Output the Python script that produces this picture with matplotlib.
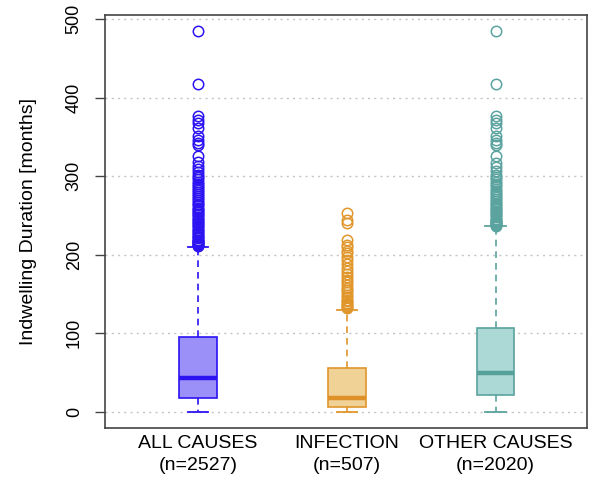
import matplotlib
matplotlib.use("Agg")
import matplotlib.pyplot as plt

plt.rcParams['font.family'] = ['Liberation Sans', 'DejaVu Sans']

categories = ["ALL CAUSES\n(n=2527)", "INFECTION\n(n=507)", "OTHER CAUSES\n(n=2020)"]
q1 = [17.5, 6.0, 21.5]
median = [43.0, 18.0, 50.0]
q3 = [95.5, 56.0, 107.0]
whislo = [0.0, 0.0, 0.0]
whishi = [210.0, 130.0, 236.0]

outliers_all = [485, 417, 376, 372, 367, 361, 351, 346, 342, 339, 326, 318, 313, 309, 305,
                302, 299, 296, 293, 290, 288, 285, 283, 280, 277, 275, 272, 270, 267, 265,
                263, 260, 258, 256, 254, 252, 250, 248, 246, 244, 242, 240, 238, 236, 234,
                232, 230, 228, 226, 224, 222, 221, 219, 218, 217, 216, 215, 214, 213, 212, 211]
outliers_inf = [253, 244, 240, 219, 213, 210, 205, 202, 197, 193, 188, 183, 179, 176, 172,
                168, 165, 162, 158, 155, 152, 149, 146, 143, 141, 139, 137, 135, 133, 132]
outliers_oth = [485, 417, 376, 372, 367, 361, 351, 346, 342, 339, 326, 317, 311, 306, 302,
                299, 296, 293, 290, 287, 284, 281, 279, 276, 273, 271, 268, 266, 264, 262,
                260, 258, 256, 254, 252, 250, 248, 246, 244, 243, 242, 241, 240, 239, 238, 237]
outliers = [outliers_all, outliers_inf, outliers_oth]

yticks = [0, 100, 200, 300, 400, 500]

edge_colors = ["#2b13f2", "#e0962a", "#5aa39e"]
fill_colors = ["#9a90f7", "#f0d196", "#acd8d6"]
median_colors = ["#2b13f2", "#dd9128", "#56a09b"]

fig = plt.figure(figsize=(5.92, 4.79), dpi=100)
ax = fig.add_axes([105/592, 1-428/479, (587-105)/592, (428-15)/479])

for y in yticks:
    ax.axhline(y, color="#c4c4c4", linestyle=(0, (1.5, 3)), linewidth=1.0, zorder=0)

positions = [1, 2, 3]
for i in range(3):
    st = [dict(med=median[i], q1=q1[i], q3=q3[i], whislo=whislo[i], whishi=whishi[i],
               fliers=outliers[i])]
    ax.bxp(st, positions=[positions[i]], widths=0.255, patch_artist=True,
           showcaps=True, showfliers=True,
           boxprops=dict(facecolor=fill_colors[i], edgecolor=edge_colors[i], linewidth=1.2),
           medianprops=dict(color=median_colors[i], linewidth=3.2, solid_capstyle='butt'),
           whiskerprops=dict(color=edge_colors[i], linestyle=(0, (4, 3)), linewidth=1.2),
           capprops=dict(color=edge_colors[i], linewidth=1.3),
           capwidths=0.135,
           flierprops=dict(marker='o', markerfacecolor='none', markeredgecolor=edge_colors[i],
                           markersize=7.5, markeredgewidth=1.1))

ax.set_xlim(0.375, 3.615)
ax.set_ylim(-20.4, 505)
ax.set_xticks(positions)
ax.set_xticklabels(categories, fontsize=14, linespacing=1.4)
ax.tick_params(axis='x', length=0, pad=5)
ax.set_yticks(yticks)
ax.set_yticklabels([str(v) for v in yticks], fontsize=13, rotation=90, va='center')
ax.tick_params(axis='y', length=7, width=1.0, color="#444444", pad=9)
ax.set_ylabel("Indwelling Duration [months]", fontsize=14, labelpad=21)
for s in ax.spines.values():
    s.set_color("#444444")
    s.set_linewidth(1.2)

fig.savefig("out.png", dpi=100)
